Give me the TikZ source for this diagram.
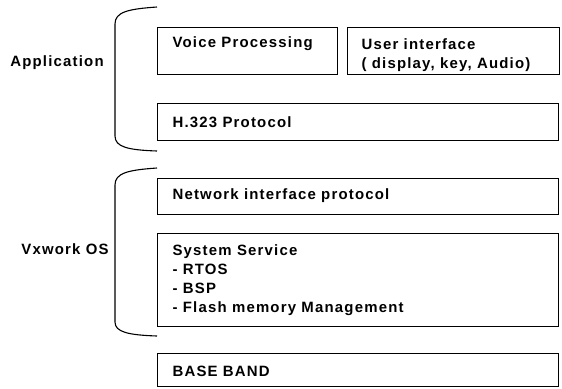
\documentclass[tikz,border=0pt]{standalone}
\usepackage{fontspec}
\setmainfont{Liberation Sans}[LetterSpace=8]

\begin{document}
\begin{tikzpicture}[x=1bp, y=-1bp, line width=1.1bp,
    layer/.style={draw, rectangle, inner sep=0pt, anchor=north west},
    txt/.style={font=\bfseries\fontsize{15}{19}\selectfont, inner sep=0pt, align=left, anchor=west}]
        \useasboundingbox (0, 0) rectangle (562, 388);

        % application layers
        \node[layer, minimum width=180bp, minimum height=47bp] (voice) at (157, 27) {};
        \node[layer, minimum width=212bp, minimum height=47bp] (user) at (347, 27) {};
        \node[layer, minimum width=401bp, minimum height=37bp] (h323) at (157, 103) {};

        % os layers
        \node[layer, minimum width=401bp, minimum height=36bp] (net) at (157, 178) {};
        \node[layer, minimum width=401bp, minimum height=93bp] (sys) at (157, 233) {};
        \node[layer, minimum width=401bp, minimum height=33bp] (base) at (157, 353) {};

        \node[txt] (voicetxt) at (172, 44) {Voice Processing};
        \node[txt] (usertxt) at (361, 55) {User interface\\( display, key, Audio)};
        \node[txt] (h323txt) at (172, 122) {H.323 Protocol};
        \node[txt] (nettxt) at (172, 196) {Network interface protocol};
        \node[txt] (systxt) at (172, 280) {System Service\\- RTOS\\- BSP\\- Flash memory Management};
        \node[txt] (basetxt) at (172, 371) {BASE BAND};

        % brackets
        \draw (157, 7) .. controls (128, 9) and (115, 12) .. (115, 24)
            -- (115, 136) .. controls (115, 147) and (128, 150) .. (157, 151);
        \draw (157, 168) .. controls (128, 170) and (115, 173) .. (115, 185)
            -- (115, 322) .. controls (115, 332) and (128, 335) .. (157, 336);

        \node[txt, anchor=center] (app) at (57, 63) {Application};
        \node[txt, anchor=center] (os) at (65, 249) {Vxwork OS};
\end{tikzpicture}
\end{document}
